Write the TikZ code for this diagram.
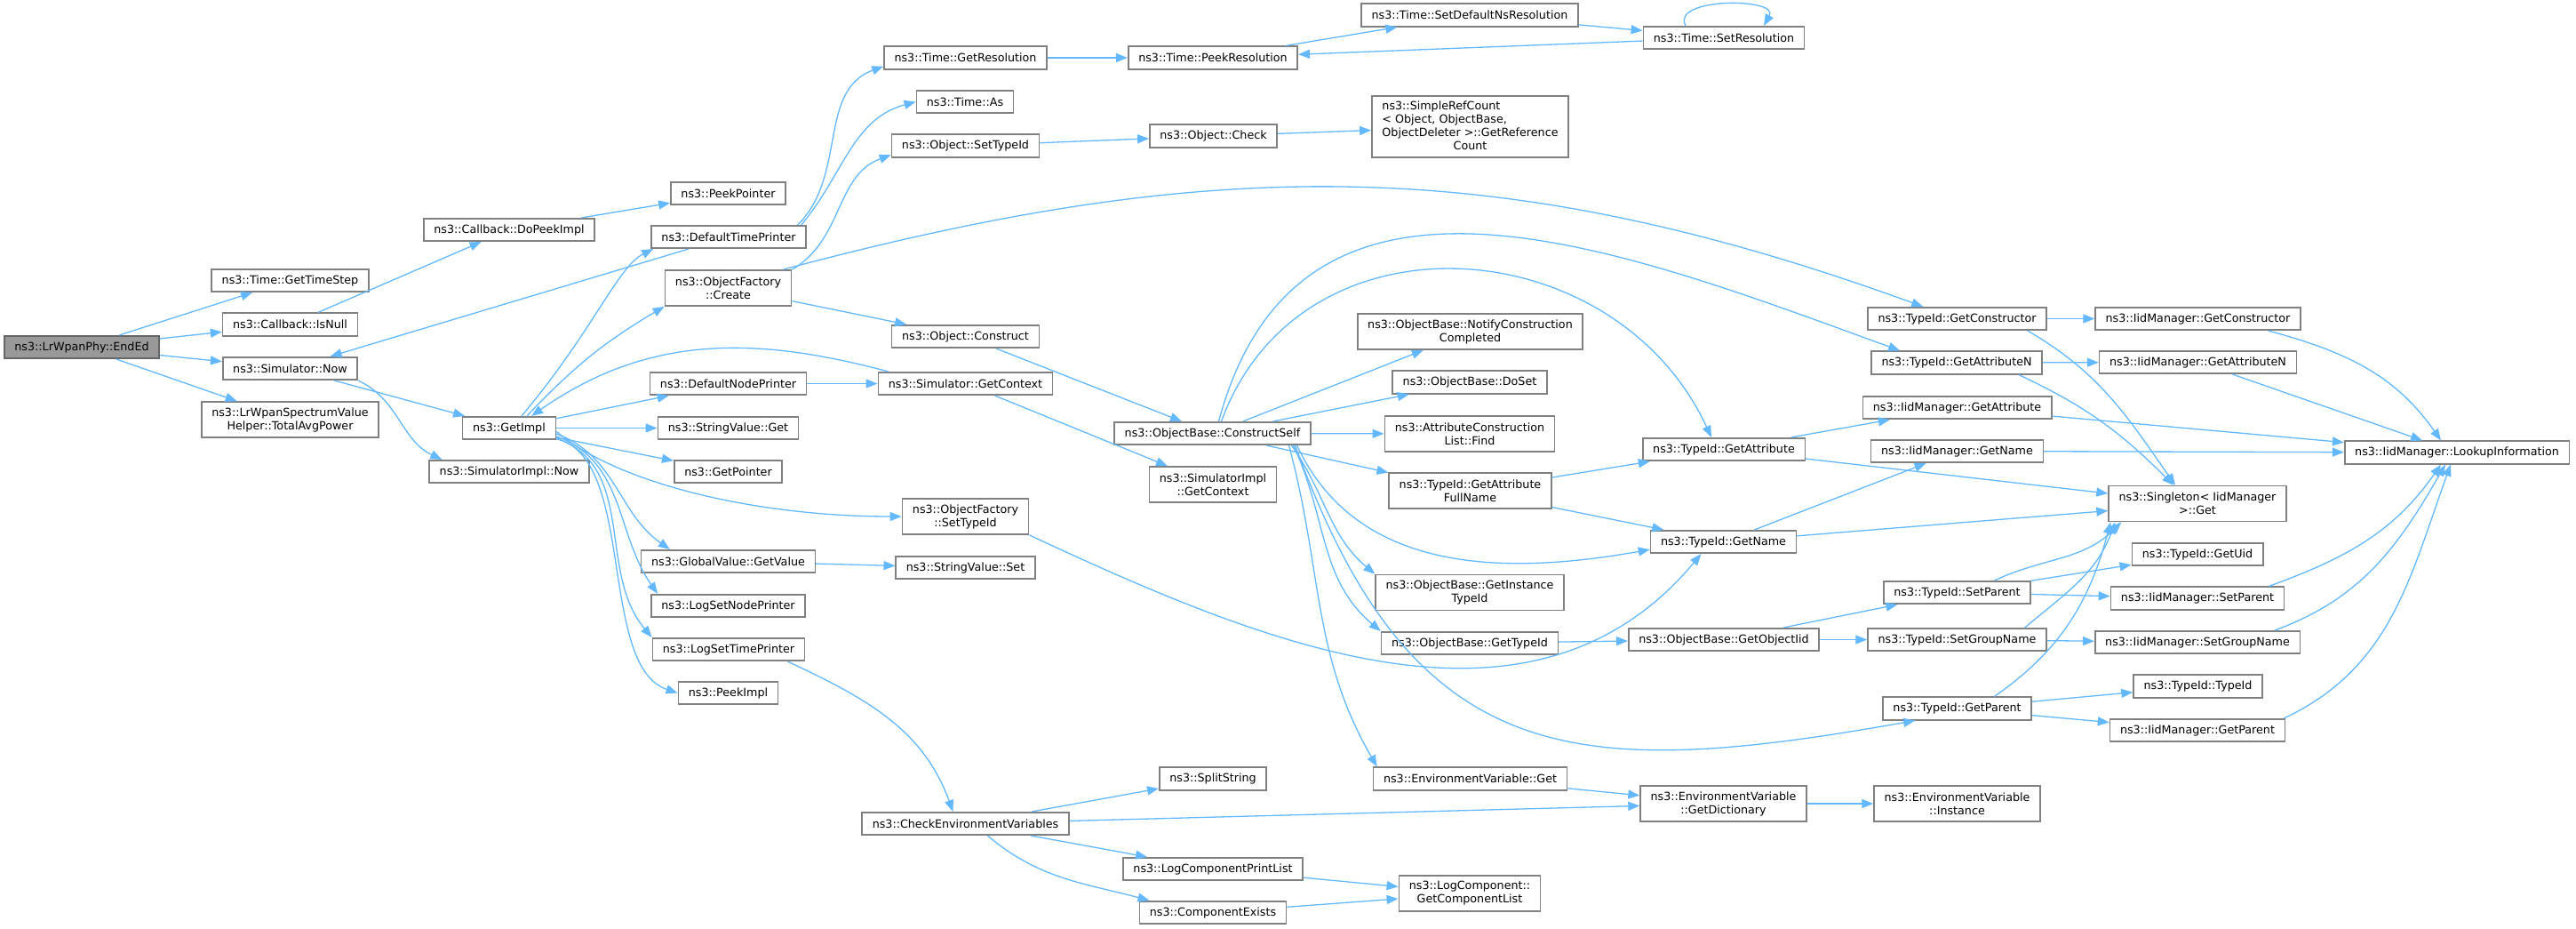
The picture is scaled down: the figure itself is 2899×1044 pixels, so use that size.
\documentclass[tikz,border=0pt]{standalone}
\usepackage{fontspec}
\setmainfont{DejaVu Sans}
\usepackage{xcolor}
\definecolor{callblue}{RGB}{99,184,255}
\definecolor{boxgray}{RGB}{153,153,153}
\definecolor{boxline}{RGB}{128,128,128}
\definecolor{rootborder}{RGB}{102,102,102}
\usepackage{tikz}
\usetikzlibrary{arrows.meta}

\tikzset{
  fn/.style={draw=boxline, line width=1.6pt, fill=white, font=\fontsize{12.7}{15}\selectfont,
    inner xsep=11.5pt, inner ysep=2pt, minimum height=25.5pt, align=center},
  twoline/.style={minimum height=40pt},
  call/.style={draw=callblue, line width=1.3pt, -{Triangle[length=13pt,width=10pt]}}
}

\begin{document}
\begin{tikzpicture}[x=1pt, y=1pt] % one unit is one pixel of the graph
                \useasboundingbox (0,0) rectangle (2899,-1044);
                % Draw the functions as boxes
                \node[fn, fill=boxgray, draw=rootborder] (endEd) at (92,-390.5) {ns3::LrWpanPhy::EndEd};
                \node[fn] (getTimeStep) at (326.5,-315.5) {ns3::Time::GetTimeStep};
                \node[fn] (isNull) at (326.5,-365) {ns3::Callback::IsNull};
                \node[fn] (simNow) at (326.5,-414.5) {ns3::Simulator::Now};
                \node[fn, twoline] (totalAvgPower) at (326.5,-472) {ns3::LrWpanSpectrumValue\\Helper::TotalAvgPower};
                \node[fn] (doPeekImpl) at (573,-258.5) {ns3::Callback::DoPeekImpl};
                \node[fn] (getImpl) at (573,-481.5) {ns3::GetImpl};
                \node[fn] (simImplNow) at (573,-530.5) {ns3::SimulatorImpl::Now};
                \node[fn] (peekPointer) at (819.5,-217.5) {ns3::PeekPointer};
                \node[fn] (defaultTimePrinter) at (820,-266.5) {ns3::DefaultTimePrinter};
                \node[fn, twoline] (ofCreate) at (819.5,-324) {ns3::ObjectFactory\\::Create};
                \node[fn] (defaultNodePrinter) at (819.5,-431.5) {ns3::DefaultNodePrinter};
                \node[fn] (stringValueGet) at (819.5,-481.5) {ns3::StringValue::Get};
                \node[fn] (getPointer) at (819.5,-530.5) {ns3::GetPointer};
                \node[fn] (globalGetValue) at (819.5,-631.5) {ns3::GlobalValue::GetValue};
                \node[fn] (logSetNodePrinter) at (819.5,-681.5) {ns3::LogSetNodePrinter};
                \node[fn] (logSetTimePrinter) at (820,-730.5) {ns3::LogSetTimePrinter};
                \node[fn] (peekImpl) at (819.5,-779.5) {ns3::PeekImpl};
                \node[fn] (timeGetResolution) at (1086.5,-65) {ns3::Time::GetResolution};
                \node[fn] (timeAs) at (1086,-114.5) {ns3::Time::As};
                \node[fn] (objSetTypeId) at (1086.5,-164) {ns3::Object::SetTypeId};
                \node[fn] (objConstruct) at (1086.5,-378.5) {ns3::Object::Construct};
                \node[fn] (simGetContext) at (1086.5,-431.5) {ns3::Simulator::GetContext};
                \node[fn, twoline] (ofSetTypeId) at (1086.5,-581) {ns3::ObjectFactory\\::SetTypeId};
                \node[fn] (stringValueSet) at (1086.5,-638.5) {ns3::StringValue::Set};
                \node[fn] (checkEnvVars) at (1086.5,-926.5) {ns3::CheckEnvironmentVariables};
                \node[fn] (timePeekResolution) at (1365,-65) {ns3::Time::PeekResolution};
                \node[fn] (objCheck) at (1365.5,-153) {ns3::Object::Check};
                \node[fn] (constructSelf) at (1364.5,-487.5) {ns3::ObjectBase::ConstructSelf};
                \node[fn, twoline] (simImplGetContext) at (1365,-545) {ns3::SimulatorImpl\\::GetContext};
                \node[fn] (splitString) at (1365,-876) {ns3::SplitString};
                \node[fn] (logCompPrintList) at (1365,-977.5) {ns3::LogComponentPrintList};
                \node[fn] (componentExists) at (1365,-1026.5) {ns3::ComponentExists};
                \node[fn] (setDefaultNsRes) at (1654,-17) {ns3::Time::SetDefaultNsResolution};
                \node[fn, minimum height=69pt] (simpleRefCount) at (1654.5,-142.5) {\begin{tabular}{@{}l@{}}ns3::SimpleRefCount\\< Object, ObjectBase,\\ObjectDeleter >::GetReference\\\multicolumn{1}{@{}c@{}}{Count}\end{tabular}};
                \node[fn, twoline] (notifyConstruction) at (1654.5,-373) {ns3::ObjectBase::NotifyConstruction\\Completed};
                \node[fn] (doSet) at (1654,-430) {ns3::ObjectBase::DoSet};
                \node[fn, twoline] (attrListFind) at (1654,-488) {ns3::AttributeConstruction\\List::Find};
                \node[fn, twoline] (getAttrFullName) at (1654.5,-552) {ns3::TypeId::GetAttribute\\FullName};
                \node[fn, twoline] (getInstanceTypeId) at (1654,-666.5) {ns3::ObjectBase::GetInstance\\TypeId};
                \node[fn] (objBaseGetTypeId) at (1654,-723.5) {ns3::ObjectBase::GetTypeId};
                \node[fn] (envVarGet) at (1654.5,-876) {ns3::EnvironmentVariable::Get};
                \node[fn, twoline] (getComponentList) at (1654,-1005) {ns3::LogComponent::\\GetComponentList};
                \node[fn] (timeSetResolution) at (1940,-42.5) {ns3::Time::SetResolution};
                \node[fn] (typeIdGetAttribute) at (1940,-505.5) {ns3::TypeId::GetAttribute};
                \node[fn] (typeIdGetName) at (1939.5,-609.5) {ns3::TypeId::GetName};
                \node[fn] (getObjectIid) at (1940,-719.5) {ns3::ObjectBase::GetObjectIid};
                \node[fn, twoline] (getDictionary) at (1939.5,-904) {ns3::EnvironmentVariable\\::GetDictionary};
                \node[fn] (typeIdGetConstructor) at (2202.5,-358.5) {ns3::TypeId::GetConstructor};
                \node[fn] (typeIdGetAttributeN) at (2202,-408) {ns3::TypeId::GetAttributeN};
                \node[fn] (iidGetAttribute) at (2202.5,-458.5) {ns3::IidManager::GetAttribute};
                \node[fn] (iidGetName) at (2202.5,-507.5) {ns3::IidManager::GetName};
                \node[fn] (typeIdSetParent) at (2202.5,-666.5) {ns3::TypeId::SetParent};
                \node[fn] (typeIdSetGroupName) at (2202.5,-719.5) {ns3::TypeId::SetGroupName};
                \node[fn] (typeIdGetParent) at (2202.5,-797) {ns3::TypeId::GetParent};
                \node[fn, twoline] (envVarInstance) at (2202.5,-904) {ns3::EnvironmentVariable\\::Instance};
                \node[fn] (iidGetConstructor) at (2473.5,-358.5) {ns3::IidManager::GetConstructor};
                \node[fn] (iidGetAttributeN) at (2473.5,-407.5) {ns3::IidManager::GetAttributeN};
                \node[fn, twoline] (singletonGet) at (2473,-566.5) {ns3::Singleton< IidManager\\>::Get};
                \node[fn] (typeIdGetUid) at (2473,-623.5) {ns3::TypeId::GetUid};
                \node[fn] (iidSetParent) at (2473,-673) {ns3::IidManager::SetParent};
                \node[fn] (iidSetGroupName) at (2473,-722.5) {ns3::IidManager::SetGroupName};
                \node[fn] (typeIdTypeId) at (2473.5,-772) {ns3::TypeId::TypeId};
                \node[fn] (iidGetParent) at (2473,-821.5) {ns3::IidManager::GetParent};
                \node[fn] (lookupInfo) at (2765,-509) {ns3::IidManager::LookupInformation};

                % Draw the calls of EndEd and Simulator::Now
                \draw[call] (endEd) -- (getTimeStep);
                \draw[call] (endEd) -- (isNull);
                \draw[call] (endEd) -- (simNow);
                \draw[call] (endEd) -- (totalAvgPower);
                \draw[call] (simNow) -- (getImpl);
                \draw[call] (simNow.south east) to[out=-25,in=155] ([xshift=15pt]simImplNow.north west);
                \draw[call] (isNull) -- (doPeekImpl);
                \draw[call] (doPeekImpl) -- (peekPointer);

                % Draw the calls of GetImpl
                \draw[call] ([xshift=14pt]getImpl.north) .. controls +(80,95) and +(-40,-20) .. ([xshift=3pt]defaultTimePrinter.south west);
                \draw[call] ([xshift=20pt]getImpl.north) to[bend left=8] (ofCreate.south west);
                \draw[call] (getImpl) -- (defaultNodePrinter);
                \draw[call] (getImpl) -- (stringValueGet);
                \draw[call] (getImpl) -- (getPointer);
                \draw[call] (getImpl.-4) .. controls +(70,-60) and +(-160,0) .. (ofSetTypeId.west);
                \draw[call] (getImpl.-7) to[out=-20,in=145] ([xshift=33pt]globalGetValue.north west);
                \draw[call] (getImpl.-10) to[out=-20,in=125] ([xshift=8pt]logSetNodePrinter.north west);
                \draw[call] (getImpl.-12) to[out=-20,in=130] (logSetTimePrinter.north west);
                \draw[call] (getImpl.-13) .. controls +(90,-20) and +(-90,30) .. (peekImpl.west);

                % Draw the calls of the printers
                \draw[call] (defaultTimePrinter) -- (simNow);
                \draw[call] ([xshift=-10pt]defaultTimePrinter.north east) to[out=45,in=200] (timeGetResolution.186);
                \draw[call] ([xshift=-6pt]defaultTimePrinter.north east) to[out=50,in=195] (timeAs.west);
                \draw[call] (defaultNodePrinter) -- (simGetContext);
                \draw[call] (globalGetValue) -- (stringValueSet);
                \draw[call] ([xshift=-20pt]logSetTimePrinter.south east) to[out=-25,in=110] ([xshift=-14pt]checkEnvVars.north);

                % Draw the calls of ObjectFactory::Create
                \draw[call] (ofCreate.north east) to[out=30,in=200] (objSetTypeId.187);
                \draw[call] (ofCreate) -- (objConstruct);
                \draw[call] ([xshift=-10pt]ofCreate.north east) .. controls +(486,130) and +(-473,172) .. ([xshift=63pt]typeIdGetConstructor.north west);

                % Draw the calls of Time
                \draw[call] (timeGetResolution) -- (timePeekResolution);
                \draw[call] (timePeekResolution) -- (setDefaultNsRes);
                \draw[call] (setDefaultNsRes) -- (timeSetResolution);
                \draw[call] (timeSetResolution) -- (timePeekResolution);
                \draw[call] ([xshift=-43pt]timeSetResolution.north) .. controls +(-18,32) and +(18,32) .. ([xshift=45pt]timeSetResolution.north);

                % Draw the calls of Object and Simulator::GetContext
                \draw[call] (objSetTypeId) -- (objCheck);
                \draw[call] (objCheck) -- (simpleRefCount);
                \draw[call] (objConstruct) -- (constructSelf);
                \draw[call] (simGetContext) -- (simImplGetContext);
                \draw[call] ([xshift=12pt]simGetContext.north west) to[out=165,in=35] ([xshift=-28pt]getImpl.north east);

                % Draw the calls of ObjectBase::ConstructSelf
                \draw[call] (constructSelf) -- (notifyConstruction);
                \draw[call] (constructSelf) -- (doSet);
                \draw[call] (constructSelf) -- (attrListFind);
                \draw[call] (constructSelf) -- (getAttrFullName);
                \draw[call] ([xshift=-22pt]constructSelf.south east) to[out=-55,in=140] (getInstanceTypeId.north west);
                \draw[call] ([xshift=-20pt]constructSelf.south east) to[out=-65,in=140] (objBaseGetTypeId.north west);
                \draw[call] ([xshift=-25pt]constructSelf.south east) to[out=-75,in=120] ([xshift=5pt]envVarGet.north west);
                \draw[call] ([xshift=-18pt]constructSelf.south east) .. controls +(133,-366) and +(-384,-68) .. ([xshift=37pt]typeIdGetParent.south west);
                \draw[call] ([xshift=-16pt]constructSelf.south east) to[out=-65,in=190] (typeIdGetName.186);
                \draw[call] ([xshift=10pt]constructSelf.north) .. controls +(89,243) and +(-109,235) .. ([xshift=-14pt]typeIdGetAttribute.north);
                \draw[call] ([xshift=7pt]constructSelf.north) .. controls +(90,335) and +(-326,119) .. ([xshift=33pt]typeIdGetAttributeN.north west);

                % Draw the calls of TypeId
                \draw[call] (getAttrFullName) -- (typeIdGetAttribute);
                \draw[call] (getAttrFullName) -- (typeIdGetName);
                \draw[call] (typeIdGetAttribute) -- (iidGetAttribute);
                \draw[call] (typeIdGetAttribute) -- (singletonGet);
                \draw[call] (typeIdGetName) -- (iidGetName);
                \draw[call] (typeIdGetName) -- (singletonGet);
                \draw[call] (ofSetTypeId.south east) .. controls +(268,-125) and +(-190,-227) .. ([xshift=-25pt]typeIdGetName.south);
                \draw[call] (objBaseGetTypeId) -- (getObjectIid);
                \draw[call] (getObjectIid) -- (typeIdSetParent);
                \draw[call] (getObjectIid) -- (typeIdSetGroupName);
                \draw[call] (typeIdGetConstructor) -- (iidGetConstructor);
                \draw[call] ([xshift=-22pt]typeIdGetConstructor.south east) to[out=-30,in=125] ([xshift=-25pt]singletonGet.north);
                \draw[call] (typeIdGetAttributeN) -- (iidGetAttributeN);
                \draw[call] ([xshift=-27pt]typeIdGetAttributeN.south east) to[out=-25,in=135] ([xshift=-27pt]singletonGet.north);
                \draw[call] (typeIdSetParent) -- (typeIdGetUid);
                \draw[call] (typeIdSetParent) -- (iidSetParent);
                \draw[call] ([xshift=42pt]typeIdSetParent.north) to[out=25,in=225] ([xshift=15pt]singletonGet.south west);
                \draw[call] (typeIdSetGroupName) -- (iidSetGroupName);
                \draw[call] ([xshift=-25pt]typeIdSetGroupName.north east) to[out=40,in=250] ([xshift=8pt]singletonGet.south west);
                \draw[call] (typeIdGetParent) -- (typeIdTypeId);
                \draw[call] (typeIdGetParent) -- (iidGetParent);
                \draw[call] ([xshift=42pt]typeIdGetParent.north) to[out=35,in=255] ([xshift=3pt]singletonGet.south west);

                % Draw the calls of IidManager
                \draw[call] ([xshift=-37pt]iidGetConstructor.south east) to[out=-15,in=125] ([xshift=-18pt]lookupInfo.north);
                \draw[call] (iidGetAttributeN) -- (lookupInfo);
                \draw[call] (iidGetAttribute) -- (lookupInfo);
                \draw[call] (iidGetName) -- (lookupInfo);
                \draw[call] ([xshift=-18pt]iidSetParent.north east) to[out=20,in=235] ([xshift=-18pt]lookupInfo.south);
                \draw[call] ([xshift=-29pt]iidSetGroupName.north east) to[out=20,in=240] ([xshift=-13pt]lookupInfo.south);
                \draw[call] ([xshift=-2pt]iidGetParent.north east) to[out=25,in=250] ([xshift=-7pt]lookupInfo.south);

                % Draw the calls of the environment helpers
                \draw[call] (checkEnvVars) -- (splitString);
                \draw[call] (checkEnvVars) -- (logCompPrintList);
                \draw[call] ([xshift=25pt]checkEnvVars.south) to[out=-40,in=165] ([xshift=12pt]componentExists.north west);
                \draw[call] (checkEnvVars) -- (getDictionary);
                \draw[call] (logCompPrintList) -- (getComponentList);
                \draw[call] (componentExists) -- (getComponentList);
                \draw[call] (envVarGet) -- (getDictionary);
                \draw[call] (getDictionary) -- (envVarInstance);
        \end{tikzpicture}
\end{document}
